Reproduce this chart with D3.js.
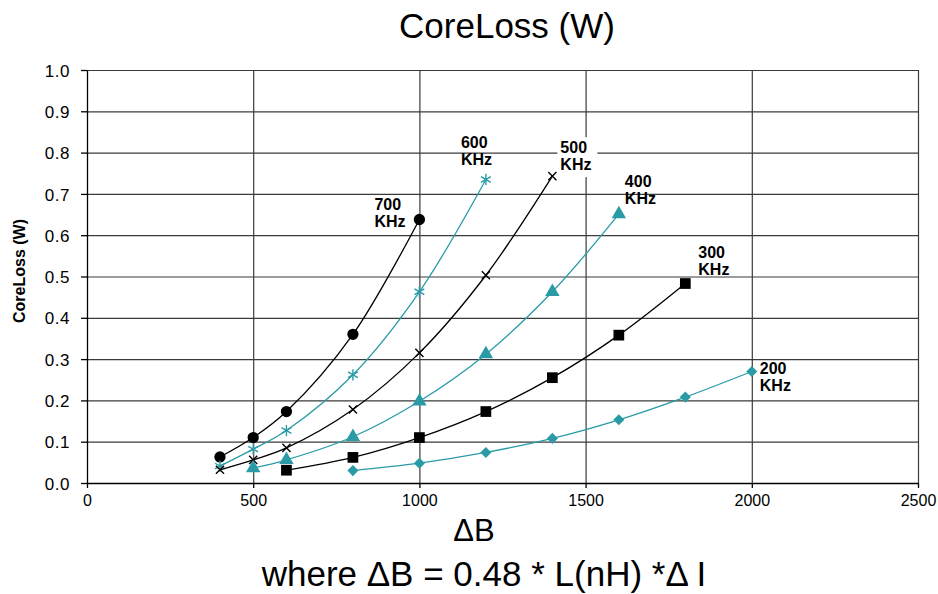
<html>
  <head>
    <script src="https://cdnjs.cloudflare.com/ajax/libs/d3/7.8.5/d3.min.js"></script>
  </head>
  <body style="margin:0;background:#fff;font-family:Arial,'Liberation Sans',sans-serif;">
    <style>
      .tick text {font-size:16px;font-family:Arial,'Liberation Sans',sans-serif;fill:#000;}
      .yax .tick text {font-size:17px;letter-spacing:0.5px;}
      .grid line {stroke:#3a3a3a;stroke-width:1.2;}
      .grid .domain {display:none;}
      .lbl {font-size:16px;font-weight:bold;}
    </style>
    <div id="scene"></div>
    <script>


// D A T A

      // delta B for each frequency curve, and core loss in watts
      let freqs = ['700', '600', '500', '400', '300', '200']

      let dB700 = [400, 500, 600, 800, 1000]
      let w700  = [0.063, 0.110, 0.173, 0.360, 0.638]

      let dB600 = [400, 500, 600, 800, 1000, 1200]
      let w600  = [0.041, 0.082, 0.127, 0.262, 0.463, 0.735]

      let dB500 = [400, 500, 600, 800, 1000, 1200, 1400]
      let w500  = [0.032, 0.056, 0.085, 0.178, 0.315, 0.503, 0.743]

      let dB400 = [500, 600, 800, 1000, 1200, 1400, 1600]
      let w400  = [0.036, 0.056, 0.112, 0.198, 0.312, 0.463, 0.651]

      let dB300 = [600, 800, 1000, 1200, 1400, 1600, 1800]
      let w300  = [0.031, 0.062, 0.110, 0.173, 0.255, 0.358, 0.483]

      let dB200 = [800, 1000, 1200, 1400, 1600, 1800, 2000]
      let w200  = [0.030, 0.048, 0.074, 0.108, 0.153, 0.208, 0.270]

      let xTicks = [0, 500, 1000, 1500, 2000, 2500]
      let yTicks = [0, 0.1, 0.2, 0.3, 0.4, 0.5, 0.6, 0.7, 0.8, 0.9, 1.0]


// S T Y L E

      let teal = '#2a9ba6'
      let look = {
        '700': {color:'#000', sym:d3.symbolCircle,   size:100, fill:true,  dx:-45, dy:-10, box:false},
        '600': {color:teal,   sym:d3.symbolAsterisk, size:90,  fill:false, dx:-25, dy:-31, box:false},
        '500': {color:'#000', sym:d3.symbolTimes,    size:45,  fill:false, dx:8,   dy:-23, box:true},
        '400': {color:teal,   sym:d3.symbolTriangle, size:90,  fill:true,  dx:6,   dy:-27, box:false},
        '300': {color:'#000', sym:d3.symbolSquare,   size:115, fill:true,  dx:13,  dy:-26, box:false},
        '200': {color:teal,   sym:d3.symbolDiamond2, size:78,  fill:true,  dx:8,   dy:3,   box:false}
      }

      let raw = {'700':[dB700,w700], '600':[dB600,w600], '500':[dB500,w500],
                 '400':[dB400,w400], '300':[dB300,w300], '200':[dB200,w200]}
      let series = freqs.map(f => ({
        freq: f,
        pts: raw[f][0].map((b,i) => ({b, w:raw[f][1][i]}))
      }))


// C H A R T

      let W = 938, H = 594
      let svg = d3.select('#scene').append('svg')
        .attr('width', W).attr('height', H)

      let x = d3.scaleLinear().domain([0, 2500]).range([87, 918])
      let y = d3.scaleLinear().domain([0, 1]).range([483, 70])

      // grid
      svg.append('g')
        .attr('class', 'grid')
        .attr('transform', 'translate(0,483)')
        .call(d3.axisBottom(x).tickValues(xTicks.slice(1)).tickSize(-413).tickFormat(''))
      svg.append('g')
        .attr('class', 'grid')
        .attr('transform', 'translate(87,0)')
        .call(d3.axisLeft(y).tickValues(yTicks.slice(1)).tickSize(-831).tickFormat(''))

      // axes
      let xa = svg.append('g')
        .attr('transform', 'translate(0,483)')
        .call(d3.axisBottom(x).tickValues(xTicks).tickSize(5).tickPadding(7).tickFormat(d3.format('d')).tickSizeOuter(0))
      let ya = svg.append('g')
        .attr('class', 'yax')
        .attr('transform', 'translate(87,0)')
        .call(d3.axisLeft(y).tickValues(yTicks).tickSize(6).tickPadding(11).tickFormat(d3.format('.1f')).tickSizeOuter(0))
      xa.selectAll('line, path').attr('stroke', '#000').attr('stroke-width', 1.3)
      ya.selectAll('line, path').attr('stroke', '#000').attr('stroke-width', 1.3)
      ya.selectAll('text').attr('dy', '0.36em')


// L I N E S

      let line = d3.line()
        .x(d => x(d.b))
        .y(d => y(d.w))
        .curve(d3.curveCatmullRom.alpha(0.5))

      let groups = svg.append('g').selectAll('g')
        .data(series)
        .enter()
          .append('g')

      groups.append('path')
        .attr('d', d => line(d.pts))
        .attr('fill', 'none')
        .attr('stroke', d => look[d.freq].color)
        .attr('stroke-width', 1.3)

      groups.each(function(s) {
        let st = look[s.freq]
        d3.select(this).selectAll('.mk')
          .data(s.pts)
          .enter()
            .append('path')
            .attr('class', 'mk')
            .attr('transform', d => `translate(${x(d.b)},${y(d.w)})`)
            .attr('d', d3.symbol().type(st.sym).size(st.size))
            .attr('fill', st.fill ? st.color : 'none')
            .attr('stroke', st.color)
            .attr('stroke-width', st.fill ? 0 : 1.4)
      })


// L A B E L S

      groups.each(function(s) {
        let st = look[s.freq]
        let last = s.pts[s.pts.length - 1]
        let lx = x(last.b) + st.dx
        let ly = y(last.w) + st.dy
        let g = d3.select(this).append('g')
        if (st.box) {
          g.append('rect')
            .attr('x', lx - 3).attr('y', ly - 16)
            .attr('width', 40).attr('height', 40)
            .attr('fill', '#fff')
        }
        g.append('text').attr('class', 'lbl')
          .attr('x', lx).attr('y', ly).text(s.freq)
        g.append('text').attr('class', 'lbl')
          .attr('x', lx).attr('y', ly + 17).text('KHz')
      })


// T I T L E S

      svg.append('text')
        .attr('x', 507).attr('y', 38)
        .attr('text-anchor', 'middle')
        .style('font-size', '35px')
        .text('CoreLoss (W)')

      svg.append('text')
        .attr('transform', 'translate(25,271) rotate(-90)')
        .attr('text-anchor', 'middle')
        .style('font-size', '16px')
        .style('font-weight', 'bold')
        .text('CoreLoss (W)')

      svg.append('text')
        .attr('x', 474).attr('y', 541)
        .attr('text-anchor', 'middle')
        .style('font-size', '31px')
        .text('ΔB')

      svg.append('text')
        .attr('x', 484).attr('y', 586)
        .attr('text-anchor', 'middle')
        .style('font-size', '35px')
        .text('where ΔB = 0.48 * L(nH) *Δ I')

    </script>
  </body>
</html>
